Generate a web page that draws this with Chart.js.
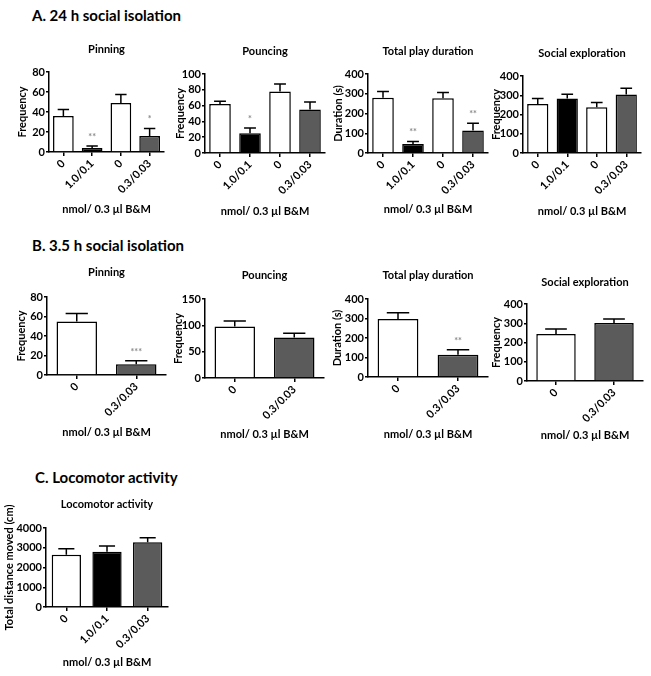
<!DOCTYPE html>
<html>
<head>
<meta charset="utf-8">
<script src="https://cdn.jsdelivr.net/npm/chart.js@4/dist/chart.umd.min.js"></script>
<style>
  html, body { margin: 0; padding: 0; background: #fff; }
  #page { position: relative; width: 651px; height: 676px; overflow: hidden; }
  .head { position: absolute; font: bold 15px Lato, sans-serif; color: #000; white-space: nowrap; line-height: 18px; }
  canvas { position: absolute; }
</style>
</head>
<body>
<div id="page">
  <div class="head" style="left:32px; top:6px;">A. 24 h social isolation</div>
  <div class="head" style="left:32px; top:236px;">B. 3.5 h social isolation</div>
  <div class="head" style="left:35px; top:468px;">C. Locomotor activity</div>
</div>
<script>
  // ── data ──────────────────────────────────────────────
  var catsA = ['0', '1.0/0.1', '0', '0.3/0.03'];
  var catsB = ['0', '0.3/0.03'];
  var catsC = ['0', '1.0/0.1', '0.3/0.03'];

  var pinA = [36, 4, 49, 16];
  var pinAErr = [6.5, 2, 8.5, 7.5];
  var pinASig = ['', '**', '', '*'];

  var pounceA = [62, 25, 78, 55];
  var pounceAErr = [3.5, 6.5, 9.5, 9.5];
  var pounceASig = ['', '*', '', ''];

  var durA = [280, 45, 277, 114];
  var durAErr = [31, 13, 29, 37];
  var durASig = ['', '**', '', '**'];

  var socA = [254, 283, 238, 304];
  var socAErr = [29, 22, 24, 33];

  var pinB = [55, 11];
  var pinBErr = [8, 3.5];
  var pinBSig = ['', '***'];

  var pounceB = [98, 77];
  var pounceBErr = [10, 8];

  var durB = [298, 114];
  var durBErr = [32, 26];
  var durBSig = ['', '**'];

  var socB = [244, 301];
  var socBErr = [26, 21];

  var locoC = [2640, 2800, 3280];
  var locoCErr = [310, 290, 230];

  var X_TITLE = 'nmol/ 0.3 \u00b5l B&M';

  // dose -> fill colour
  var DOSE_COLOR = { '0': '#ffffff', '1.0/0.1': '#000000', '0.3/0.03': '#5b5b5b' };

  var PANELS = [
    { title: 'Pinning', yTitle: 'Frequency', cats: catsA, vals: pinA, err: pinAErr, sig: pinASig, max: 80, step: 20, bw: 0.72,
      box: { L: 49, T: 72, R: 164, B: 152, tY: 50, xY: 209, yX: 23 } },
    { title: 'Pouncing', yTitle: 'Frequency', cats: catsA, vals: pounceA, err: pounceAErr, sig: pounceASig, max: 100, step: 20, bw: 0.72,
      box: { L: 205, T: 74, R: 325, B: 153, tY: 52, xY: 211, yX: 181 } },
    { title: 'Total play duration', yTitle: 'Duration (s)', cats: catsA, vals: durA, err: durAErr, sig: durASig, max: 400, step: 100, bw: 0.72,
      box: { L: 368, T: 74, R: 488, B: 153, tY: 52, xY: 209, yX: 339 } },
    { title: 'Social exploration', yTitle: 'Frequency', cats: catsA, vals: socA, err: socAErr, sig: null, max: 400, step: 100, bw: 0.72,
      box: { L: 523, T: 76, R: 641, B: 153, tY: 54, xY: 211, yX: 497 } },
    { title: 'Pinning', yTitle: 'Frequency', cats: catsB, vals: pinB, err: pinBErr, sig: pinBSig, max: 80, step: 20, bw: 0.68,
      box: { L: 47, T: 297, R: 166, B: 375, tY: 273, xY: 432, yX: 22 } },
    { title: 'Pouncing', yTitle: 'Frequency', cats: catsB, vals: pounceB, err: pounceBErr, sig: null, max: 150, step: 50, bw: 0.68,
      box: { L: 205, T: 299, R: 324, B: 378, tY: 276, xY: 434, yX: 179 } },
    { title: 'Total play duration', yTitle: 'Duration (s)', cats: catsB, vals: durB, err: durBErr, sig: durBSig, max: 400, step: 100, bw: 0.68,
      box: { L: 368, T: 299, R: 488, B: 377, tY: 276, xY: 434, yX: 338 } },
    { title: 'Social exploration', yTitle: 'Frequency', cats: catsB, vals: socB, err: socBErr, sig: null, max: 400, step: 100, bw: 0.68,
      box: { L: 527, T: 304, R: 643, B: 381, tY: 283, xY: 435, yX: 497 } },
    { title: 'Locomotor activity', yTitle: 'Total distance moved (cm)', cats: catsC, vals: locoC, err: locoCErr, sig: null, max: 4000, step: 1000, bw: 0.72,
      box: { L: 46, T: 528, R: 168, B: 607, tY: 505, xY: 662, yX: 10 } }
  ];

  var FONT = 11;
  var LH = FONT * 1.2;

  // upward-only error bars with caps, plus significance stars
  var errorBars = {
    id: 'errorBars',
    afterDatasetsDraw: function (chart, args, opts) {
      var ctx = chart.ctx;
      var ys = chart.scales.y;
      var vals = chart.data.datasets[0].data;
      chart.getDatasetMeta(0).data.forEach(function (bar, i) {
        var top = ys.getPixelForValue(vals[i] + opts.err[i]);
        var cap = bar.width * 0.55 / 2;
        ctx.save();
        ctx.strokeStyle = '#000';
        ctx.lineWidth = 1.5;
        ctx.beginPath();
        ctx.moveTo(bar.x, bar.y);
        ctx.lineTo(bar.x, top);
        ctx.moveTo(bar.x - cap, top);
        ctx.lineTo(bar.x + cap, top);
        ctx.stroke();
        if (opts.sig && opts.sig[i]) {
          ctx.fillStyle = '#8a8a8a';
          ctx.font = 'bold 9px Lato, sans-serif';
          ctx.textAlign = 'center';
          ctx.textBaseline = 'middle';
          ctx.fillText(opts.sig[i], bar.x, top - 9);
        }
        ctx.restore();
      });
    }
  };

  function buildPanel(p) {
    var b = p.box;
    var left = Math.round(b.yX - LH / 2);
    var top = Math.round(b.tY - LH / 2);
    var bottom = Math.round(b.xY + LH / 2);
    var width = b.R - left + 2;
    var height = bottom - top;
    var yW = b.L - left;
    var xH = bottom - b.B;
    var tPad = b.T - top - LH;

    var canvas = document.createElement('canvas');
    canvas.width = width;
    canvas.height = height;
    canvas.style.left = left + 'px';
    canvas.style.top = top + 'px';
    canvas.style.width = width + 'px';
    canvas.style.height = height + 'px';
    document.getElementById('page').appendChild(canvas);

    var axisFont = { size: FONT, weight: 'bold', family: 'Lato, sans-serif' };

    new Chart(canvas, {
      type: 'bar',
      data: {
        labels: p.cats,
        datasets: [{
          data: p.vals,
          backgroundColor: p.cats.map(function (c) { return DOSE_COLOR[c]; }),
          borderColor: '#000',
          borderWidth: 1.5,
          barPercentage: p.bw,
          categoryPercentage: 1
        }]
      },
      options: {
        responsive: false,
        animation: false,
        devicePixelRatio: 1,
        layout: { padding: { left: 0, top: 0, bottom: 0, right: 2 } },
        plugins: {
          legend: { display: false },
          tooltip: { enabled: false },
          title: {
            display: true,
            fullSize: false,
            text: p.title,
            color: '#000',
            font: axisFont,
            padding: { top: 0, bottom: tPad }
          },
          errorBars: { err: p.err, sig: p.sig }
        },
        scales: {
          x: {
            offset: true,
            grid: { display: true, offset: false, drawOnChartArea: false, drawTicks: true, tickLength: 4, color: '#000', lineWidth: 1.5 },
            border: { display: true, color: '#000', width: 1.5 },
            ticks: { color: '#000', font: axisFont, minRotation: 45, maxRotation: 45, autoSkip: false, padding: 1 },
            title: { display: true, text: X_TITLE, color: '#000', font: axisFont, padding: 0 },
            afterFit: function (s) { s.height = xH; }
          },
          y: {
            min: 0,
            max: p.max,
            grid: { display: true, drawOnChartArea: false, drawTicks: true, tickLength: 3, color: '#000', lineWidth: 1.5 },
            border: { display: true, color: '#000', width: 1.5 },
            ticks: {
              stepSize: p.step, autoSkip: false, color: '#000', font: axisFont, padding: 1,
              callback: function (v) { return String(v); }
            },
            title: { display: true, text: p.yTitle, color: '#000', font: axisFont, padding: 0 },
            afterFit: function (s) { s.width = yW; }
          }
        }
      },
      plugins: [errorBars]
    });
  }

  function run() {
    PANELS.forEach(buildPanel);
  }

  if (document.fonts && document.fonts.load) {
    document.fonts.load('bold 11px Lato').then(run, run);
  } else {
    run();
  }
</script>
</body>
</html>
